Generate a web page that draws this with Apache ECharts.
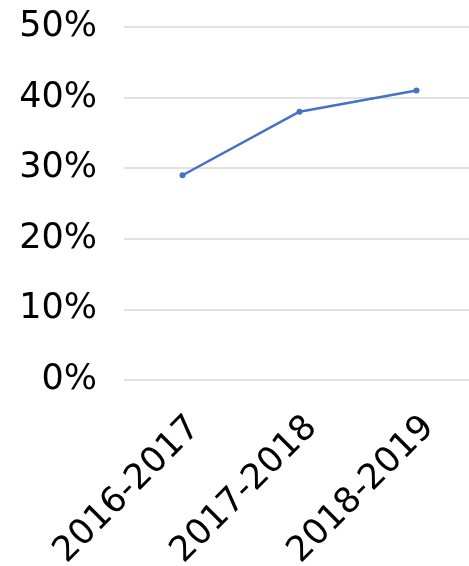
<!DOCTYPE html>
<html>
<head>
<meta charset="utf-8">
<script src="https://cdn.jsdelivr.net/npm/echarts@6/dist/echarts.min.js"></script>
<style>
html, body { margin: 0; padding: 0; background: #fff; }
#main { width: 469px; height: 566px; }
</style>
</head>
<body>
<div id="main"></div>
<script>
// 年度数据
var years = ['2016-2017', '2017-2018', '2018-2019'];
var rates = [29, 38, 41];
var yTicks = [0, 10, 20, 30, 40, 50];

var chart = echarts.init(document.getElementById('main'));

var option = {
    animation: false,
    grid: {
        left: 124,
        width: 351,
        top: 27,
        bottom: 186,
        containLabel: false,
        outerBoundsMode: 'none'
    },
    xAxis: {
        type: 'category',
        data: years,
        boundaryGap: true,
        axisLine: { show: false },
        axisTick: { show: false },
        axisLabel: {
            rotate: 45,
            margin: 30,
            interval: 0,
            verticalAlign: 'top',
            fontFamily: 'DejaVu Sans',
            fontSize: 35,
            color: '#000'
        }
    },
    yAxis: {
        type: 'value',
        min: yTicks[0],
        max: yTicks[yTicks.length - 1],
        interval: 10,
        axisLine: { show: false },
        axisTick: { show: false },
        splitLine: { lineStyle: { color: '#d9d9d9', width: 1.5 } },
        axisLabel: {
            margin: 27,
            fontFamily: 'DejaVu Sans',
            fontSize: 35,
            color: '#000',
            formatter: '{value}%'
        }
    },
    series: [
        {
            type: 'line',
            data: rates,
            symbol: 'circle',
            symbolSize: 6,
            lineStyle: { color: '#4472c4', width: 2.5 },
            itemStyle: { color: '#4472c4' }
        }
    ]
};

chart.setOption(option);
</script>
</body>
</html>
